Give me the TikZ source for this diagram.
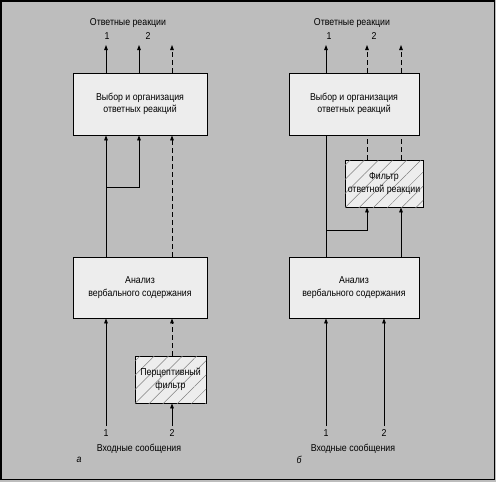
\documentclass[tikz,border=0pt]{standalone}
\usepackage{fontspec}
\setsansfont{Liberation Sans}[FakeStretch=0.88]
\usetikzlibrary{positioning}
\usetikzlibrary{arrows.meta}
\usetikzlibrary{patterns.meta}
\tikzset{every picture/.style={/utils/exec={\sffamily}}}
\definecolor{bggray}{gray}{0.74}
\definecolor{boxgray}{gray}{0.93}

\begin{document}
\begin{tikzpicture}[x=1pt, y=-1pt,
  font=\fontsize{10}{12.5}\selectfont,
  box/.style={draw, line width=0.9pt, fill=boxgray, align=center, inner sep=0pt},
  filterbox/.style={box, postaction={pattern={Lines[angle=45,distance=10pt,line width=0.5pt]}, pattern color=black!50}},
  line/.style={line width=0.9pt},
  flow/.style={line, -{Triangle[length=5pt,width=3.6pt]}},
  dashline/.style={dash pattern=on 5pt off 3pt}]

  \useasboundingbox (0,0) rectangle (496,482);
  \fill[bggray] (0,0) rectangle (496,482);
  \draw[line width=1.2pt] (1,1) rectangle (494.5,479.5);

  % a
  \node [box, minimum width=134pt, minimum height=62pt] (vybA) at (140,104) {Выбор и организация\\ответных реакций};
  \node [box, minimum width=134pt, minimum height=61pt] (anA) at (140,287.5) {Анализ\\вербального содержания};
  \node [filterbox, minimum width=71pt, minimum height=47pt] (pfA) at (170.5,379.5) {Перцептивный\\фильтр};

  \coordinate (outA1) at (106,45);
  \coordinate (outA2) at (139,45);
  \coordinate (outA3) at (172,45);
  \coordinate (brA) at (106,187);
  \coordinate (inA1) at (106,426);
  \coordinate (inA2) at (172,426);

  \node (resA) at (128,23) {Ответные реакции};
  \node (resA1) at (107,36) {1};
  \node (resA2) at (148,36) {2};
  \node [below=0pt of inA1] (numA1) {1};
  \node [below=0pt of inA2] (numA2) {2};
  \node (msgA) at (139,449) {Входные сообщения};
  \node (capA) at (79,460) {\itshape а};

  \draw[flow] (vybA.north -| outA1) -- (outA1);
  \draw[flow] (vybA.north -| outA2) -- (outA2);
  \draw[flow, dashline] (vybA.north -| outA3) -- (outA3);
  \draw[flow] (anA.north -| outA1) -- (vybA.south -| outA1);
  \draw[flow] (brA) -| (vybA.south -| outA2);
  \draw[flow, dashline] (anA.north -| outA3) -- (vybA.south -| outA3);
  \draw[flow] (inA1) -- (anA.south -| inA1);
  \draw[flow, dashline] (pfA.north -| inA2) -- (anA.south -| inA2);
  \draw[flow] (inA2) -- (pfA.south -| inA2);

  % b
  \node [box, minimum width=130pt, minimum height=62pt] (vybB) at (354,104) {Выбор и организация\\ответных реакций};
  \node [filterbox, minimum width=78pt, minimum height=47pt] (frB) at (384,183.5) {Фильтр\\ответной реакции};
  \node [box, minimum width=130pt, minimum height=61pt] (anB) at (354,287.5) {Анализ\\вербального содержания};

  \coordinate (outB1) at (326,45);
  \coordinate (outB2) at (367,45);
  \coordinate (outB3) at (401,45);
  \coordinate (brB) at (326,230);
  \coordinate (inB1) at (326,426);
  \coordinate (inB2) at (384,426);

  \node (resB) at (352,23) {Ответные реакции};
  \node (resB1) at (329,36) {1};
  \node (resB2) at (374,36) {2};
  \node [below=0pt of inB1] (numB1) {1};
  \node [below=0pt of inB2] (numB2) {2};
  \node (msgB) at (353,449) {Входные сообщения};
  \node (capB) at (299,460) {\itshape б};

  \draw[flow] (vybB.north -| outB1) -- (outB1);
  \draw[flow, dashline] (vybB.north -| outB2) -- (outB2);
  \draw[flow, dashline] (vybB.north -| outB3) -- (outB3);
  \draw[line] (anB.north -| outB1) -- (vybB.south -| outB1);
  \draw[line, dashline] (frB.north -| outB2) -- (vybB.south -| outB2);
  \draw[line, dashline] (frB.north -| outB3) -- (vybB.south -| outB3);
  \draw[flow] (brB) -| (frB.south -| outB2);
  \draw[flow] (anB.north -| outB3) -- (frB.south -| outB3);
  \draw[flow] (inB1) -- (anB.south -| inB1);
  \draw[flow] (inB2) -- (anB.south -| inB2);

\end{tikzpicture}
\end{document}
